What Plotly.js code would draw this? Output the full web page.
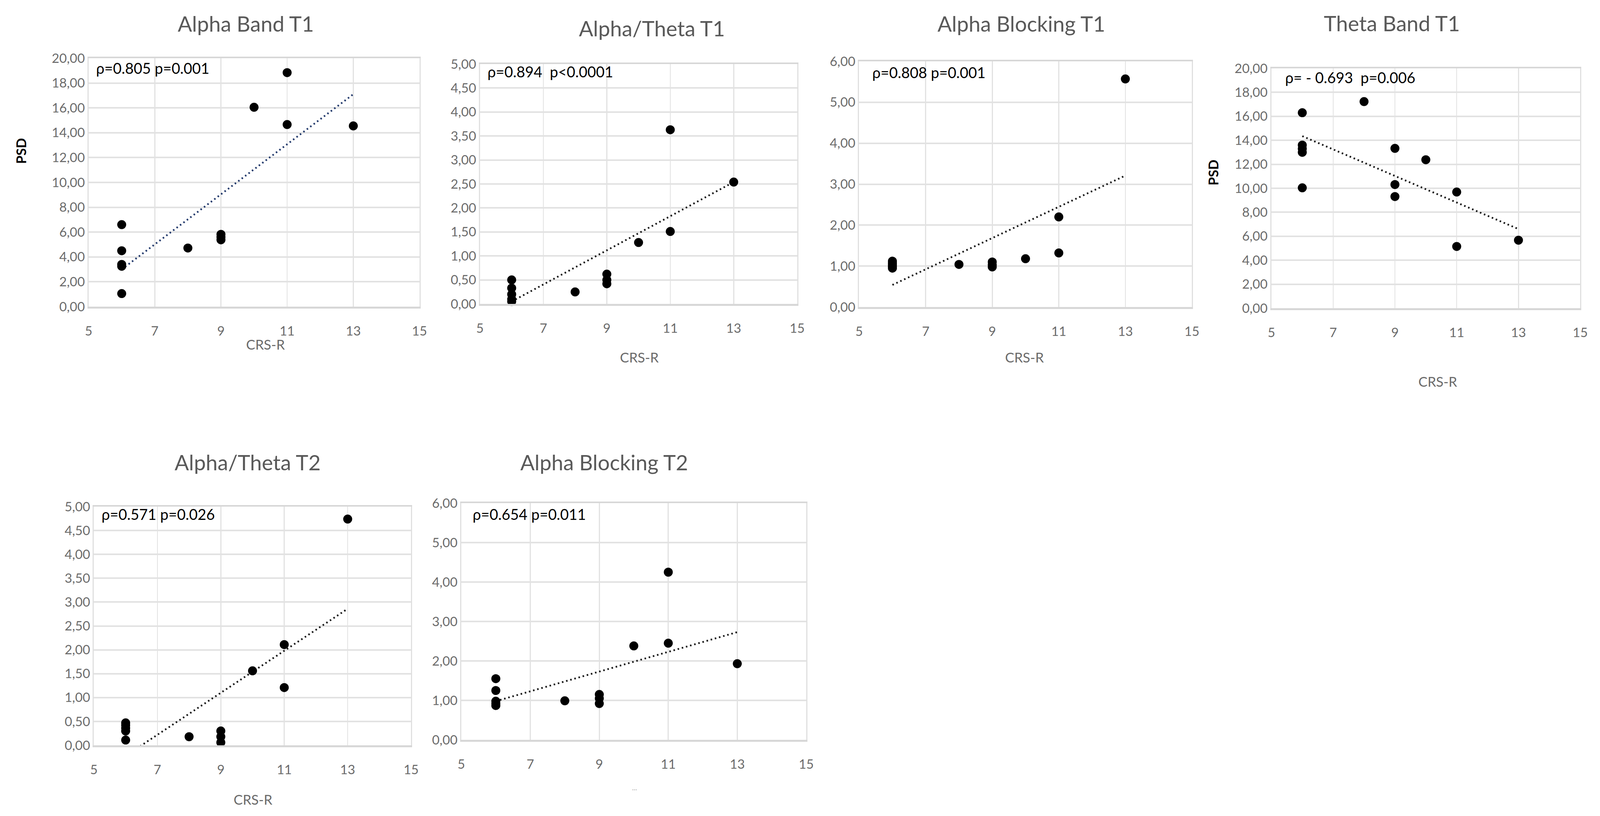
<!DOCTYPE html>
<html>
<head>
<meta charset="utf-8">
<script src="https://cdn.plot.ly/plotly-3.0.1.min.js"></script>
<style>
  html, body { margin: 0; padding: 0; background: #ffffff; overflow: hidden; }
  #chart { height: 2089px; }
</style>
</head>
<body>
<div id="chart"></div>
<script>
// ---------------- DATA ----------------
const crsScoresT1 = [6, 6, 6, 6, 6, 8, 9, 9, 9, 10, 11, 11, 13];
const crsScoresT2 = [6, 6, 6, 6, 6, 8, 9, 9, 9, 10, 11, 11, 13];

const alphaBandT1      = [6.60, 4.50, 3.40, 3.25, 1.05, 4.72, 5.82, 5.60, 5.38, 16.05, 18.84, 14.66, 14.55];
const alphaThetaT1     = [0.50, 0.33, 0.20, 0.10, 0.05, 0.25, 0.62, 0.50, 0.42, 1.28, 3.63, 1.51, 2.54];
const alphaBlockingT1  = [1.12, 1.07, 1.03, 0.99, 0.95, 1.04, 1.10, 1.03, 0.98, 1.18, 2.20, 1.32, 5.57];
const thetaBandT1      = [16.30, 13.60, 13.30, 13.00, 10.04, 17.23, 13.33, 10.31, 9.31, 12.38, 9.69, 5.15, 5.67];
const alphaThetaT2     = [0.47, 0.42, 0.36, 0.30, 0.11, 0.18, 0.30, 0.18, 0.06, 1.56, 2.11, 1.21, 4.74];
const alphaBlockingT2  = [1.55, 1.25, 0.98, 0.92, 0.87, 0.99, 1.15, 1.05, 0.92, 2.38, 4.25, 2.45, 1.93];

// linear trend lines (Excel), read at x = 6 and x = 13
const trendX = [6, 13];
const trendAlphaBandT1     = [3.00, 17.10];
const trendAlphaThetaT1    = [0.05, 2.54];
const trendAlphaBlockingT1 = [0.54, 3.21];
const trendThetaBandT1     = [14.35, 6.60];
const trendAlphaThetaT2    = [-0.22, 2.86];
const trendAlphaBlockingT2 = [0.98, 2.73];

const panelTitles = ["Alpha Band T1", "Alpha/Theta T1", "Alpha Blocking T1", "Theta Band T1", "Alpha/Theta T2", "Alpha Blocking T2"];
const statLabels = [
  "ρ=0.805 p=0.001",
  "ρ=0.894\u00a0\u00a0p&lt;0.0001",
  "ρ=0.808 p=0.001",
  "ρ=\u00a0-\u00a00.693\u00a0\u00a0p=0.006",
  "ρ=0.571 p=0.026",
  "ρ=0.654 p=0.011"
];
const xAxisLabels = ["CRS-R", "CRS-R", "CRS-R", "CRS-R", "CRS-R", "..."];
const yAxisLabels = ["PSD", "", "", "PSD", "", ""];
const yMax = [20, 5, 6, 20, 5, 6];
const yStep = [2, 0.5, 1, 2, 0.5, 1];
const xTicks = [5, 7, 9, 11, 13, 15];

const panelX = [crsScoresT1, crsScoresT1, crsScoresT1, crsScoresT1, crsScoresT2, crsScoresT2];
const panelY = [alphaBandT1, alphaThetaT1, alphaBlockingT1, thetaBandT1, alphaThetaT2, alphaBlockingT2];
const panelTrend = [trendAlphaBandT1, trendAlphaThetaT1, trendAlphaBlockingT1, trendThetaBandT1, trendAlphaThetaT2, trendAlphaBlockingT2];

// ---------------- LAYOUT (pixel geometry of the reference, 4207 x 2089) ----------------
const W = 4207, H = 2089;
// the browser viewport may be narrower than the reference: fit the figure to it
const VW = Math.min(window.innerWidth || W, W);
const sx = VW / W;
document.getElementById("chart").style.width = VW + "px";

const fx = p => p / W;
const fy = p => 1 - p / H;

// plot rectangles: [left, right, top, bottom] in reference px
const boxes = [
  [233, 1103, 149, 785],
  [1262, 2096, 164, 778],
  [2259, 3134, 157, 786],
  [3343, 4155, 175, 789],
  [247, 1081, 1297, 1908],
  [1213, 2120, 1288, 1894]
];
const titlePos = [[647, 60], [1714, 72], [2686, 60], [3660, 59], [651, 1183], [1589, 1183]];
const statPos  = [[251, 175], [1280, 184], [2291, 185], [3377, 199], [265, 1316], [1241, 1316]];
const xLabPos  = [[698, 881], [1681, 914], [2694, 914], [3780, 976], [665, 2046], [1669, 2016]];
const yLabPos  = [[54, 387], null, null, [3189, 442], null, null];
const trendColors = ["#233a6c", "#1a1a1a", "#1a1a1a", "#1a1a1a", "#1a1a1a", "#1a1a1a"];

const FONT = 'Lato, "Open Sans", "Noto Sans", sans-serif';
const GRID = "#e2e2e2";

// font sizes fitted to the reference text widths
const cv = document.createElement("canvas").getContext("2d");
function fitSize(text, target, weight) {
  cv.font = (weight || "normal") + " 100px " + FONT;
  const w = cv.measureText(text).width;
  return w > 0 ? 100 * target * sx / w : 36;
}
const titleSize = fitSize("Alpha Blocking T1", 443);
const tickSize  = fitSize("20,00", 87);
const statSize  = fitSize("ρ=0.805 p=0.001", 298);
const axisSize  = fitSize("CRS-R", 102);
const psdSize   = fitSize("PSD", 68, "bold");

const traces = [];
const layout = {
  width: VW, height: H,
  margin: {l: 0, r: 0, t: 0, b: 0, pad: 0},
  paper_bgcolor: "#ffffff",
  plot_bgcolor: "#ffffff",
  showlegend: false,
  separators: ",.",
  font: {family: FONT, color: "#6b6b6b", size: tickSize},
  annotations: []
};

for (let i = 0; i < 6; i++) {
  const n = i + 1;
  const xa = "xaxis" + (i ? n : "");
  const ya = "yaxis" + (i ? n : "");
  const xr = "x" + (i ? n : "");
  const yr = "y" + (i ? n : "");
  const b = boxes[i];

  layout[xa] = {
    domain: [fx(b[0]), fx(b[1])],
    anchor: yr,
    range: [5, 15],
    tickvals: xTicks,
    ticktext: xTicks.map(String),
    showgrid: true, gridcolor: GRID, gridwidth: 2.7,
    zeroline: false,
    showline: true, linecolor: "#d7d7d7", linewidth: 4.5, mirror: true,
    ticks: "", ticklabelstandoff: 30,
    ticklabeloverflow: "allow",
    tickfont: {family: FONT, size: tickSize, color: "#6b6b6b"},
    fixedrange: true
  };
  const yt = [];
  for (let v = 0; v <= yMax[i] + 1e-9; v += yStep[i]) yt.push(+v.toFixed(2));
  layout[ya] = {
    domain: [fy(b[3]), fy(b[2])],
    anchor: xr,
    range: [0, yMax[i]],
    tickvals: yt,
    tickformat: ".2f",
    showgrid: true, gridcolor: GRID, gridwidth: 4,
    zeroline: false,
    showline: true, linecolor: "#e0e0e0", linewidth: 3, mirror: true,
    ticks: "", ticklabelstandoff: 32 * sx,
    ticklabeloverflow: "allow",
    tickfont: {family: FONT, size: tickSize, color: "#6b6b6b"},
    fixedrange: true
  };

  traces.push({
    type: "scatter", mode: "lines",
    x: trendX, y: panelTrend[i],
    xaxis: xr, yaxis: yr,
    line: {color: trendColors[i], width: 4.5, dash: "4px,7px"},
    hoverinfo: "skip"
  });
  traces.push({
    type: "scatter", mode: "markers",
    x: panelX[i], y: panelY[i],
    xaxis: xr, yaxis: yr,
    marker: {color: "#000000", size: 23, line: {width: 0}},
    cliponaxis: false
  });

  layout.annotations.push({
    xref: "paper", yref: "paper",
    x: fx(titlePos[i][0]), y: fy(titlePos[i][1]),
    xanchor: "center", yanchor: "middle",
    text: panelTitles[i], showarrow: false,
    font: {family: FONT, size: titleSize, color: "#595959"}
  });
  layout.annotations.push({
    xref: "paper", yref: "paper",
    x: fx(statPos[i][0]), y: fy(statPos[i][1]),
    xanchor: "left", yanchor: "middle",
    text: statLabels[i], showarrow: false,
    font: {family: FONT, size: statSize, color: "#000000"}
  });
  const dots = xAxisLabels[i] === "...";
  layout.annotations.push({
    xref: "paper", yref: "paper",
    x: fx(xLabPos[i][0]), y: fy(xLabPos[i][1]),
    xanchor: "center", yanchor: "middle",
    text: xAxisLabels[i], showarrow: false,
    font: {family: FONT, size: dots ? 18 : axisSize, color: dots ? "#a0a0a0" : "#6b6b6b"}
  });
  if (yLabPos[i]) {
    layout.annotations.push({
      xref: "paper", yref: "paper",
      x: fx(yLabPos[i][0]), y: fy(yLabPos[i][1]),
      xanchor: "center", yanchor: "middle",
      textangle: -90,
      text: "<b>" + yAxisLabels[i] + "</b>", showarrow: false,
      font: {family: FONT, size: psdSize, color: "#000000"}
    });
  }
}

Plotly.newPlot("chart", traces, layout, {staticPlot: true, displayModeBar: false});
</script>
</body>
</html>
